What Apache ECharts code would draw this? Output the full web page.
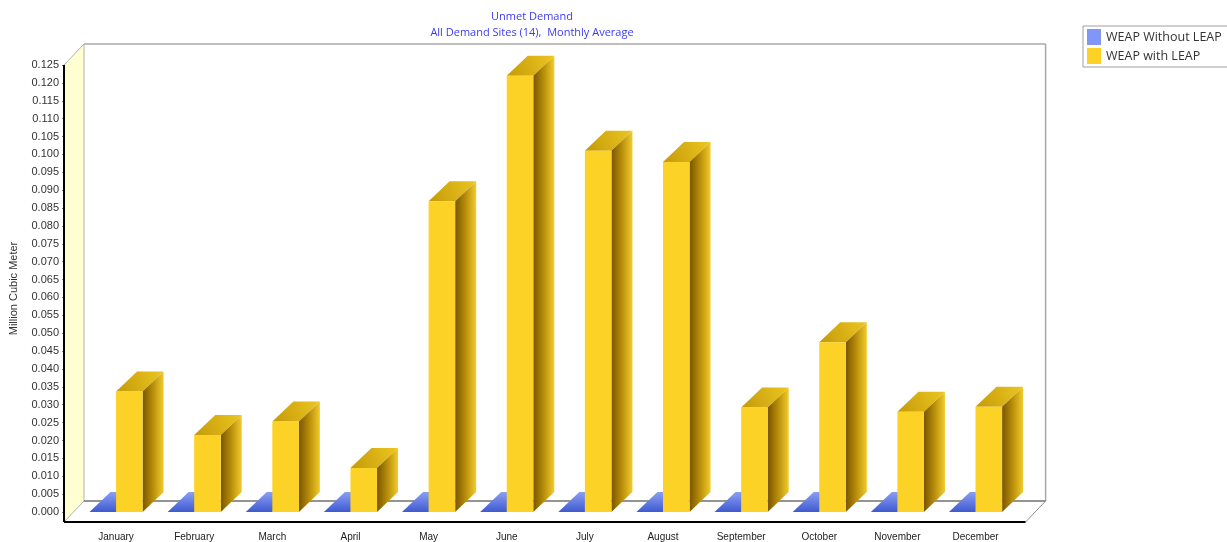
<!DOCTYPE html>
<html>
<head>
<meta charset="utf-8">
<style>
html,body{margin:0;padding:0;background:#fff;}
#chart{width:1227px;height:542px;}
</style>
<script src="https://cdn.jsdelivr.net/npm/echarts@6/dist/echarts.min.js"></script>
</head>
<body>
<div id="chart"></div>
<script>
const months = ['January','February','March','April','May','June','July','August','September','October','November','December'];
const withoutLeap = [0,0,0,0,0,0,0,0,0,0,0,0];
const withLeap = [0.0337,0.0215,0.0253,0.0123,0.0869,0.1220,0.1010,0.0979,0.0292,0.0475,0.0280,0.0294];
const seriesNames = ['WEAP Without LEAP','WEAP with LEAP'];

const chart = echarts.init(document.getElementById('chart'));

const DX = 21, DY = 20;        // bar depth
const WX = 20, WY = 21;        // wall depth

function lin(x1,y1,x2,y2,c,w){
  return {type:'line',shape:{x1:x1,y1:y1,x2:x2,y2:y2},style:{stroke:c,lineWidth:w||1}};
}

function renderFrame(params, api){
  const cs = params.coordSys;
  const L = cs.x - 13, R = cs.x + cs.width + 11;
  const T = cs.y, B0 = cs.y + cs.height, FB = B0 + 10;
  const BL = L + WX, BT = T - WY, BB = FB - WY, BR = R + WX;
  return {type:'group',children:[
    {type:'rect',shape:{x:BL,y:BT,width:BR-BL,height:BB-BT},style:{fill:'#ffffff'}},
    {type:'polygon',shape:{points:[[L,T],[BL,BT],[BL,BB],[L,FB]]},style:{fill:'#ffffd2'}},
    {type:'polygon',shape:{points:[[L,FB],[BL,BB],[BR,BB],[R,FB]]},style:{fill:'#ffffff'}},
    lin(BL,BT,BR,BT,'#a8a8a8',1.5),
    lin(BR,BT,BR,BB,'#a8a8a8',1.5),
    lin(BL,BT,BL,BB,'#b0b0b0',1),
    lin(L,T,BL,BT,'#b0b0b0',1),
    lin(BL,BB,BR,BB,'#707070',1.5),
    lin(L,FB,BL,BB,'#b0b0b0',1),
    lin(R,FB,BR,BB,'#909090',1),
    lin(L,FB,R,FB,'#000000',2),
    lin(L,T,L,FB,'#000000',2)
  ]};
}

function makeBarRender(kind){
  return function(params, api){
    const i = api.value(0), v = api.value(1);
    const top = api.coord([i, v]);
    const base = api.coord([i, 0]);
    const cw = api.size([1,0])[0];
    const w = cw * 0.34;
    const x0 = kind === 0 ? top[0] - w : top[0];
    const x1 = x0 + w;
    const yT = top[1], yB = base[1];
    const children = [];
    if (kind === 0) {
      children.push({type:'polygon',shape:{points:[[x0,yT],[x1,yT],[x1+DX,yT-DY],[x0+DX,yT-DY]]},
        style:{fill:new echarts.graphic.LinearGradient(0,1,0,0,[{offset:0,color:'#3f5ad0'},{offset:1,color:'#8a9ff5'}])}});
      if (yB - yT > 0.5) {
        children.push({type:'rect',shape:{x:x0,y:yT,width:w,height:yB-yT},style:{fill:'#8096f8'}});
        children.push({type:'polygon',shape:{points:[[x1,yT],[x1+DX,yT-DY],[x1+DX,yB-DY],[x1,yB]]},style:{fill:'#3f52b0'}});
      }
    } else {
      children.push({type:'polygon',shape:{points:[[x0,yT],[x1,yT],[x1+DX,yT-DY],[x0+DX,yT-DY]]},
        style:{fill:new echarts.graphic.LinearGradient(0,1,1,0,[{offset:0,color:'#c49a08'},{offset:1,color:'#ecc622'}])}});
      children.push({type:'polygon',shape:{points:[[x1,yT],[x1+DX,yT-DY],[x1+DX,yB-DY],[x1,yB]]},
        style:{fill:new echarts.graphic.LinearGradient(0,0,1,0,[{offset:0,color:'#7a5600'},{offset:0.5,color:'#b88e0a'},{offset:1,color:'#f2cc2c'}])}});
      children.push({type:'rect',shape:{x:x0,y:yT,width:w,height:yB-yT},style:{fill:'#fbd225'}});
    }
    return {type:'group',children:children};
  };
}

const option = {
  animation:false,
  backgroundColor:'#ffffff',
  title:{
    text:'Unmet Demand',
    subtext:'All Demand Sites (14),  Monthly Average',
    left:527, top:6, textAlign:'center', itemGap:5,
    textStyle:{color:'#3b3bf5',fontSize:11,fontWeight:'normal',fontFamily:'Open Sans'},
    subtextStyle:{color:'#3b3bf5',fontSize:11,fontFamily:'Open Sans'}
  },
  legend:{
    orient:'vertical', left:1083, top:26,
    data:seriesNames,
    icon:'rect', itemWidth:14, itemHeight:16, itemGap:3,
    padding:[3,6,3,4],
    borderColor:'#a0a0a0', borderWidth:1, backgroundColor:'#ffffff',
    textStyle:{color:'#333333',fontSize:12.5,fontFamily:'Open Sans'}
  },
  grid:{left:75, top:65, width:939.6, height:448},
  xAxis:{
    type:'category', data:months, boundaryGap:true, offset:10,
    axisLine:{show:false},
    axisTick:{show:true,alignWithLabel:true,length:4,lineStyle:{color:'#888'}},
    axisLabel:{color:'#222',fontSize:10,fontFamily:'Liberation Sans',margin:10},
    splitLine:{show:false}
  },
  yAxis:{
    type:'value', min:0, max:0.125, interval:0.005, offset:12,
    name:'Million Cubic Meter', nameLocation:'middle', nameGap:46, nameRotate:90,
    nameTextStyle:{color:'#333',fontSize:11,fontFamily:'Liberation Sans'},
    axisLine:{show:false},
    axisTick:{show:true,length:3,lineStyle:{color:'#888'}},
    axisLabel:{color:'#333',fontSize:11,fontFamily:'Liberation Sans',margin:6,formatter:function(v){return v.toFixed(3);}},
    splitLine:{show:false}
  },
  series:[
    {type:'custom', name:'frame', z:1, silent:true, clip:false, renderItem:renderFrame, data:[[0,0]]},
    {type:'custom', name:seriesNames[0], z:2, clip:false, itemStyle:{color:'#8096f8'},
     renderItem:makeBarRender(0), data:withoutLeap.map(function(v,i){return [i,v];})},
    {type:'custom', name:seriesNames[1], z:3, clip:false, itemStyle:{color:'#fcd226'},
     renderItem:makeBarRender(1), data:withLeap.map(function(v,i){return [i,v];})}
  ]
};
chart.setOption(option);
</script>
</body>
</html>
